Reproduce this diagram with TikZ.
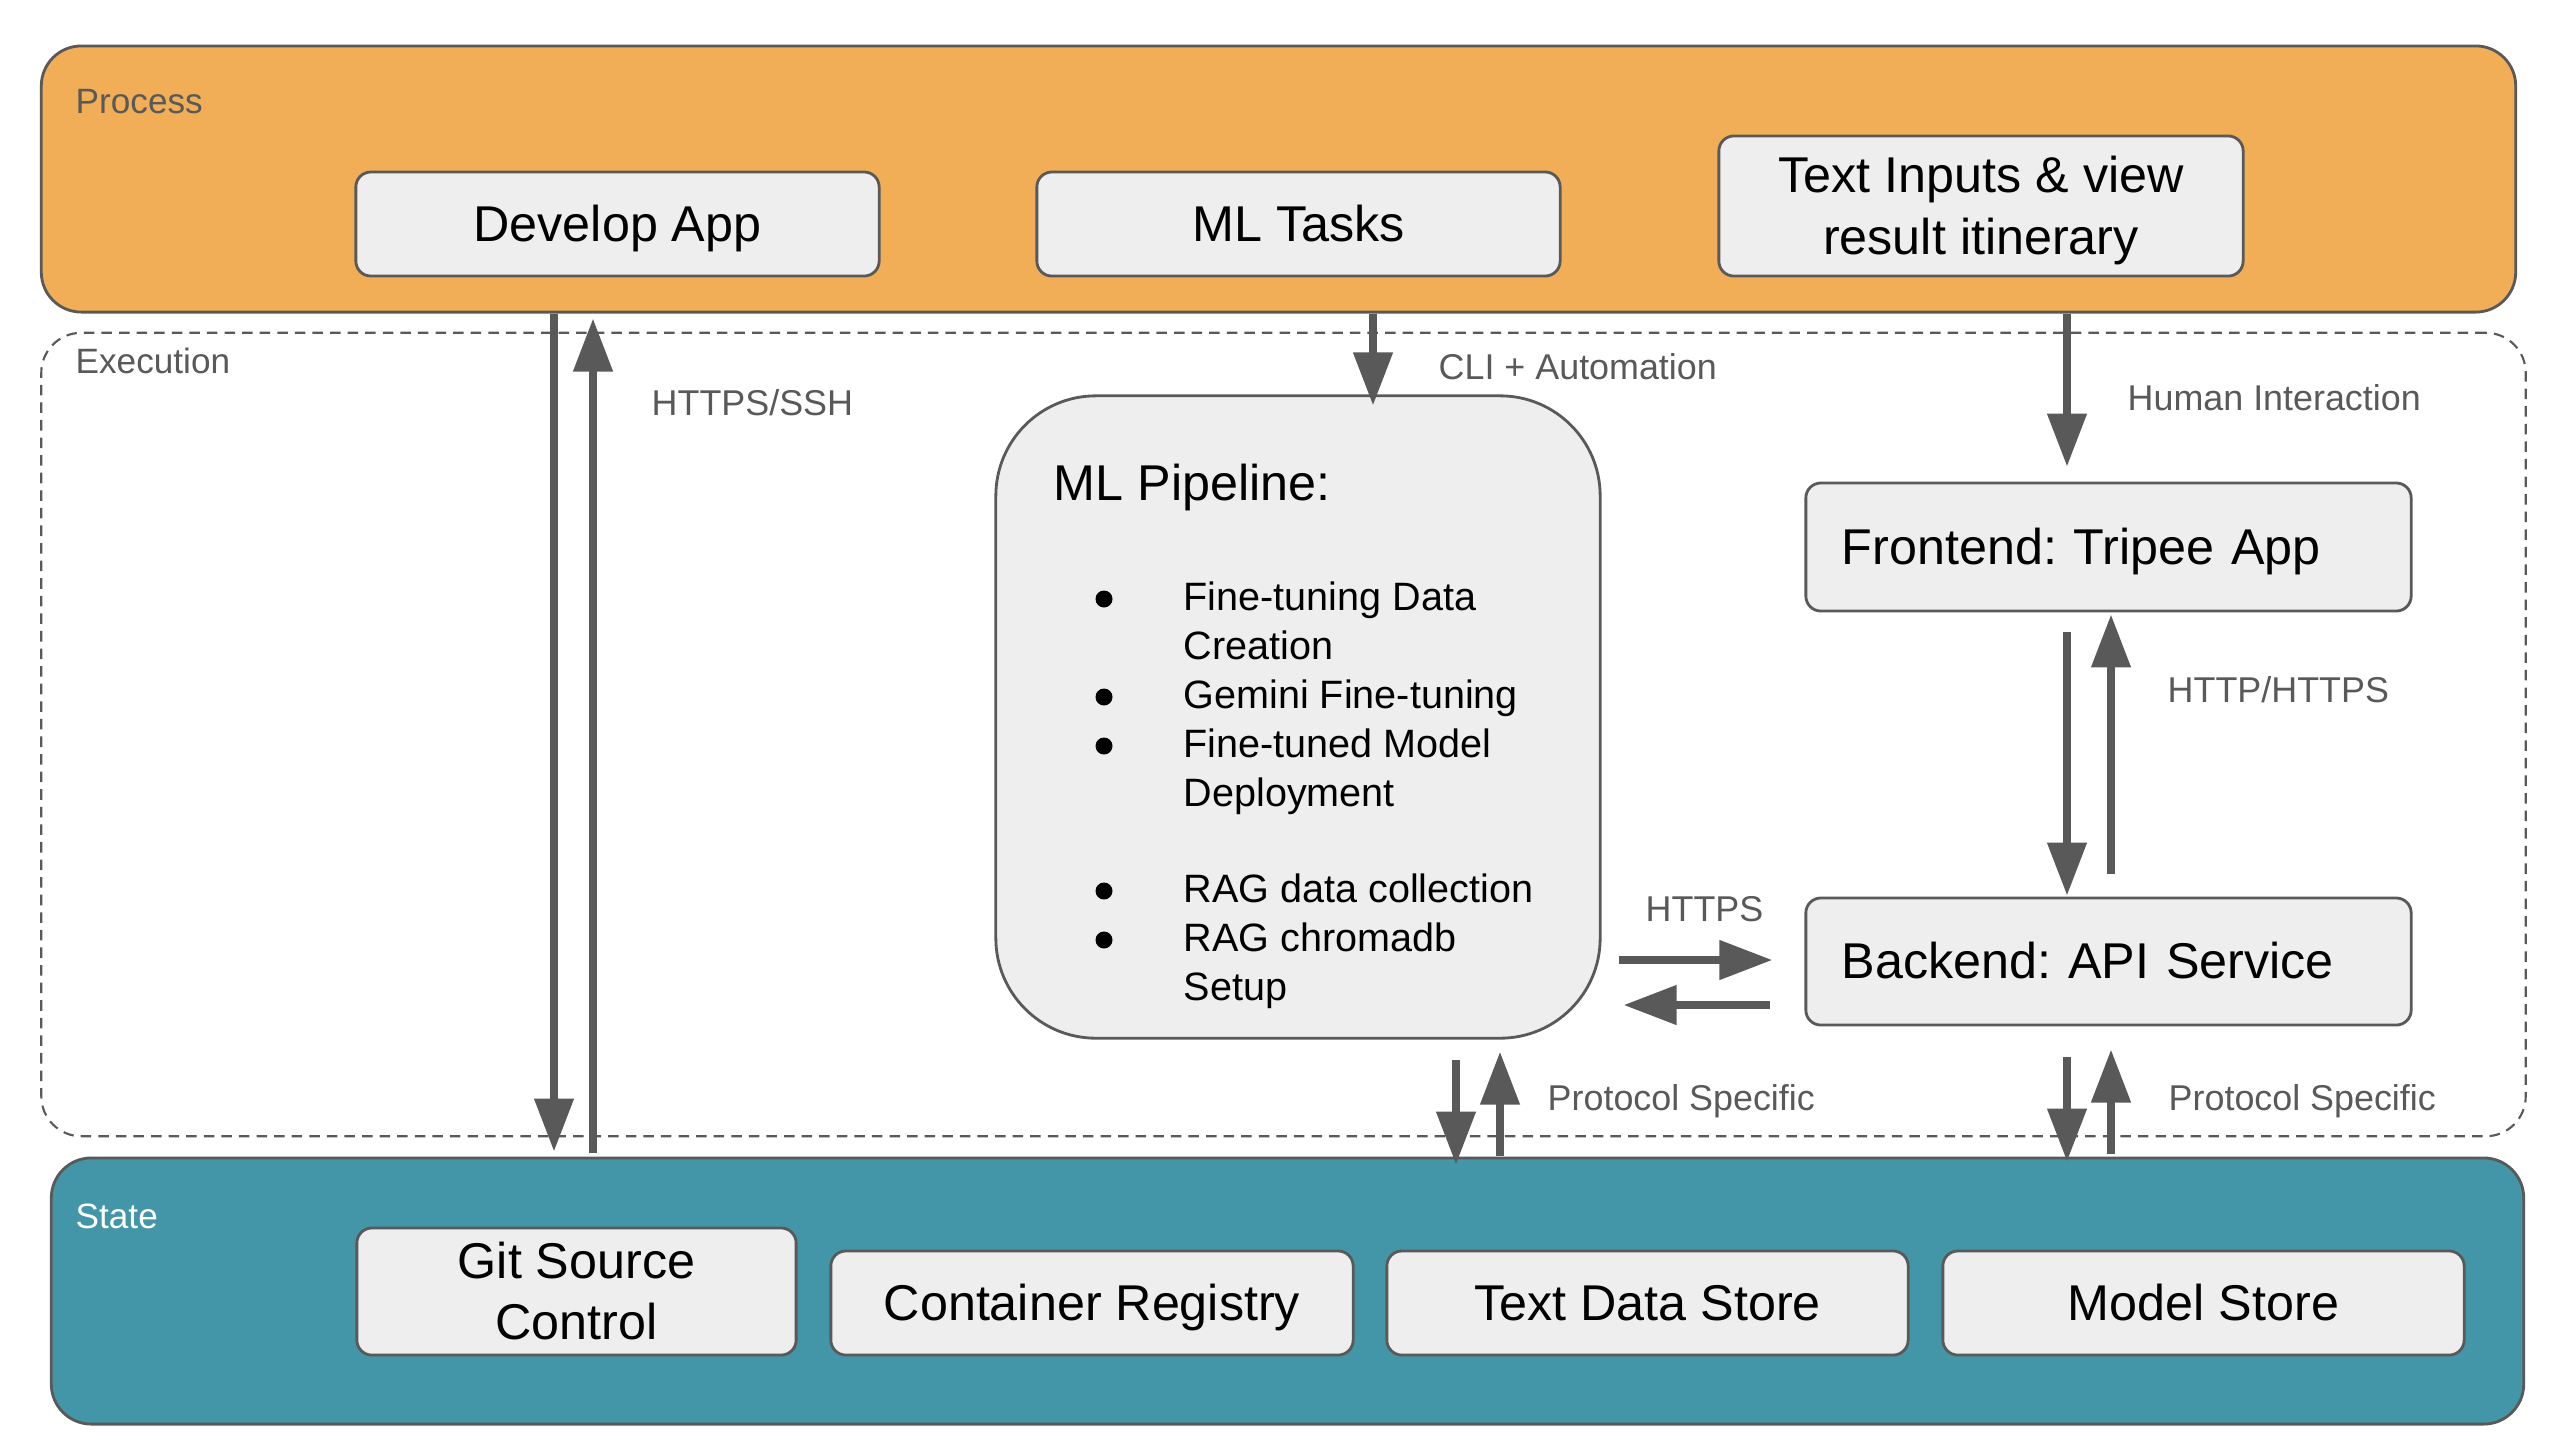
\documentclass[tikz,border=0pt]{standalone}
\usepackage{fontspec}
\setmainfont{Liberation Sans}
\usetikzlibrary{arrows.meta}
\definecolor{procorange}{HTML}{F1AE56}
\definecolor{stateteal}{HTML}{4396A7}
\definecolor{boxfill}{HTML}{EEEEEE}
\definecolor{edgegray}{HTML}{595959}
\newcommand\gstr{\rule[-0.212em]{0pt}{1.117em}}
\frenchspacing
\begin{document}
\begin{tikzpicture}[x=0.01cm,y=-0.01cm,
  container/.style={draw=edgegray, line width=0.8pt, rounded corners=0.4cm, inner sep=0pt},
  box/.style={draw=edgegray, fill=boxfill, line width=0.8pt, rounded corners=0.15cm, inner sep=0pt,
    font=\fontsize{14.3pt}{17.4pt}\selectfont, align=center},
  grouplabel/.style={anchor=base west, inner sep=0pt, font=\fontsize{10pt}{11pt}\selectfont, text=edgegray},
  elabel/.style={anchor=base west, inner sep=0pt, font=\fontsize{10.2pt}{11pt}\selectfont, text=edgegray},
  listtext/.style={anchor=base west, inner sep=0pt, font=\fontsize{11.25pt}{13pt}\selectfont},
  arr/.style={draw=edgegray, line width=2.2pt, -{Triangle[length=0.53cm,width=0.38cm]}}
]
\useasboundingbox (0,0) rectangle (2572,1450);

% containers
\node[container, fill=procorange, minimum width=24.73cm, minimum height=2.66cm] (process) at (1278.5,179) {};
\node[container, dashed, dash pattern=on 3pt off 2pt, line width=0.6pt, minimum width=24.83cm, minimum height=8.03cm] (exec) at (1283.5,734.5) {};
\node[container, fill=stateteal, minimum width=24.71cm, minimum height=2.66cm] (state) at (1287.5,1291) {};

\node[grouplabel] (proclabel) at (75,113) {Process};
\node[grouplabel] (execlabel) at (75,373) {Execution};
\node[grouplabel, text=white] (statelabel) at (75,1228) {State};

% process boxes
\node[box, minimum width=5.23cm, minimum height=1.04cm] (dev) at (617.5,224) {\gstr Develop App};
\node[box, minimum width=5.23cm, minimum height=1.04cm] (mltasks) at (1298.5,224) {\gstr ML Tasks};
\node[box, minimum width=5.24cm, minimum height=1.40cm] (textin) at (1981,206) {\gstr Text Inputs \& view\\\gstr result itinerary};

% execution boxes
\node[box, rounded corners=1cm, minimum width=6.04cm, minimum height=6.42cm] (mlpipe) at (1298,717) {};
\node[listtext, font=\fontsize{14.3pt}{17pt}\selectfont] (mltitle) at (1053,500) {ML Pipeline:};
\foreach \yy in {610,708,757,902,951}{
  \fill (1104,\yy-11) circle[radius=0.085cm];
}
\node[listtext] (l1) at (1183,610) {Fine-tuning Data};
\node[listtext] (l2) at (1183,659) {Creation};
\node[listtext] (l3) at (1183,708) {Gemini Fine-tuning};
\node[listtext] (l4) at (1183,757) {Fine-tuned Model};
\node[listtext] (l5) at (1183,806) {Deployment};
\node[listtext] (l6) at (1183,902) {RAG data collection};
\node[listtext] (l7) at (1183,951) {RAG chromadb};
\node[listtext] (l8) at (1183,1000) {Setup};

\node[box, align=left, text width=5.33cm, minimum width=6.05cm, minimum height=1.28cm] (frontend) at (2108.5,547) {\gstr Frontend: Tripee App};
\node[box, align=left, text width=5.33cm, minimum width=6.05cm, minimum height=1.27cm] (backend) at (2108.5,961.5) {\gstr Backend: API Service};

% state boxes
\node[box, minimum width=4.39cm, minimum height=1.27cm] (git) at (576.5,1291.5) {\gstr Git Source\\\gstr Control};
\node[box, minimum width=5.22cm, minimum height=1.04cm] (registry) at (1092,1303) {\gstr Container Registry};
\node[box, minimum width=5.21cm, minimum height=1.04cm] (textdata) at (1647.5,1303) {\gstr Text Data Store};
\node[box, minimum width=5.21cm, minimum height=1.04cm] (modelstore) at (2203.5,1303) {\gstr Model Store};

% x / y guide coordinates for connectors
\coordinate (gA) at (554,0);
\coordinate (gB) at (593,0);
\coordinate (gC) at (1373,0);
\coordinate (gD) at (2067,0);
\coordinate (gE) at (2111,0);
\coordinate (gF) at (1456,0);
\coordinate (gG) at (1500,0);
\coordinate (hA) at (0,960);
\coordinate (hB) at (0,1005);

% connectors
\draw[arr, shorten >=0.05cm] (process.south -| gA) -- (state.north -| gA);
\draw[arr, shorten <=0.04cm, shorten >=0.05cm] (state.north -| gB) -- (process.south -| gB);
\draw[arr, shorten >=-0.11cm] (process.south -| gC) -- (mlpipe.north -| gC);
\draw[arr, shorten >=0.15cm] (process.south -| gD) -- (frontend.north -| gD);
\draw[arr, shorten <=0.2cm, shorten >=0.01cm] (frontend.south -| gD) -- (backend.north -| gD);
\draw[arr, shorten <=0.23cm, shorten >=0.02cm] (backend.north -| gE) -- (frontend.south -| gE);
\draw[arr, shorten <=0.17cm, shorten >=0.32cm] (mlpipe.east |- hA) -- (backend.west |- hA);
\draw[arr, shorten <=0.34cm, shorten >=0.22cm] (backend.west |- hB) -- (mlpipe.east |- hB);
\draw[arr, shorten <=0.2cm, shorten >=-0.08cm] (mlpipe.south -| gF) -- (state.north -| gF);
\draw[arr, shorten <=0.01cm, shorten >=0.12cm] (state.north -| gG) -- (mlpipe.south -| gG);
\draw[arr, shorten <=0.31cm, shorten >=-0.05cm] (backend.south -| gD) -- (state.north -| gD);
\draw[arr, shorten <=0.03cm, shorten >=0.23cm] (state.north -| gE) -- (backend.south -| gE);

% connector labels
\node[elabel] (lbA) at (651,415) {HTTPS/SSH};
\node[elabel] (lbB) at (1438,379) {CLI + Automation};
\node[elabel] (lbC) at (2127,410) {Human Interaction};
\node[elabel] (lbD) at (2167,702) {HTTP/HTTPS};
\node[elabel] (lbE) at (1645,921) {HTTPS};
\node[elabel] (lbF) at (1547,1110) {Protocol Specific};
\node[elabel] (lbG) at (2168,1110) {Protocol Specific};
\end{tikzpicture}
\end{document}
